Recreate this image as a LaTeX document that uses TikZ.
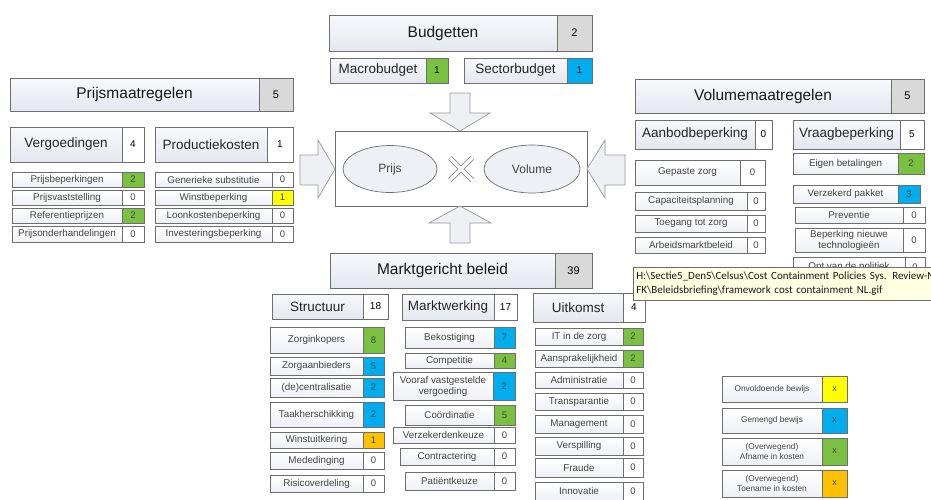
\documentclass[tikz,border=0pt]{standalone}
\usepackage{fontspec}
\setmainfont{Liberation Sans}
\newfontfamily\tipfont{Carlito}
\usetikzlibrary{shapes.geometric}
\definecolor{hdrtop}{HTML}{F8F9FC}
\definecolor{hdrbot}{HTML}{E4E7EE}
\definecolor{itemfill}{HTML}{EEF0F5}
\definecolor{numgray}{HTML}{D9D9D9}
\definecolor{edge}{HTML}{6E6E6E}
\definecolor{cgreen}{HTML}{7AC142}
\definecolor{cblue}{HTML}{00AEEF}
\definecolor{cyellow}{HTML}{FFFF00}
\definecolor{corange}{HTML}{FFC000}
\definecolor{tipfill}{HTML}{FFFFE1}
\definecolor{arrowfill}{HTML}{EEF0F4}
\definecolor{itemtext}{HTML}{444444}
\newcommand{\twocell}[9]{%
  \node[txtcell, anchor=north west, minimum width={(#4-#2)*1pt}, minimum height={(#6-#3)*1pt}] (#1) at (#2,#3) {#7};
  \node[numcell, fill=#9, anchor=north west, minimum width={(#5-#4)*1pt}, minimum height={(#6-#3)*1pt}] (#1-n) at (#4,#3) {#8};
}
\begin{document}
\begin{tikzpicture}[x=1pt,y=-1pt,
  txtcell/.style={draw=edge, line width=0.7pt, inner sep=1pt, outer sep=0pt, align=center, top color=hdrtop, bottom color=hdrbot},
  numcell/.style={draw=edge, line width=0.7pt, inner sep=1pt, outer sep=0pt, align=center},
  blockarrow/.style={draw=edge!70, fill=arrowfill, line width=0.7pt, line join=miter},
  hdr/.style={txtcell/.append style={font=\fontsize{15.5}{17}\selectfont, text=black!90}, numcell/.append style={font=\fontsize{11}{13}\selectfont}},
  sub/.style={txtcell/.append style={font=\fontsize{13.5}{15}\selectfont, text=black!85}, numcell/.append style={font=\fontsize{10}{12}\selectfont}},
  itm/.style={txtcell/.append style={font=\fontsize{9.8}{11}\selectfont, text=itemtext, top color=white, bottom color=itemfill}, numcell/.append style={font=\fontsize{9.5}{11}\selectfont, text=itemtext}},
  leg/.style={txtcell/.append style={font=\fontsize{8.3}{9.5}\selectfont, text=itemtext, top color=white, bottom color=itemfill}, numcell/.append style={font=\fontsize{9}{11}\selectfont, text=itemtext}}
]
\useasboundingbox (0,0) rectangle (931,499);
\fill[white] (0,0) rectangle (931,499);

% ---------- Headers ----------
\begin{scope}[hdr]
  \twocell{bud}{329}{15}{557}{592}{51}{Budgetten}{2}{numgray}
  \twocell{prijsm}{10}{78}{259}{293}{111}{Prijsmaatregelen}{5}{numgray}
  \twocell{volm}{635}{79}{891}{924}{113}{Volumemaatregelen}{5}{numgray}
  \twocell{markt}{330}{253}{555}{592}{288}{Marktgericht beleid}{39}{numgray}
\end{scope}

\begin{scope}[sub]
  \twocell{macro}{330}{58}{426}{448}{83}{Macrobudget}{1}{cgreen}
  \twocell{sector}{464}{58}{567}{592}{83}{Sectorbudget}{1}{cblue}
  \twocell{verg}{10}{127}{122}{144}{162}{Vergoedingen}{4}{white}
  \twocell{prod}{155}{127}{267}{293}{162}{Productiekosten}{1}{white}
  \twocell{aanbod}{635}{120}{755}{772}{149}{Aanbodbeperking}{0}{white}
  \twocell{vraag}{793}{120}{900}{924}{149}{Vraagbeperking}{5}{white}
  \twocell{struct}{272}{294}{363}{388}{319}{Structuur}{18}{white}
  \twocell{mwerk}{402}{294}{494}{517}{320}{Marktwerking}{17}{white}
  \twocell{uitk}{533}{293}{623}{645}{322}{Uitkomst}{4}{white}
\end{scope}

\begin{scope}[itm]
  % Vergoedingen
  \twocell{pb}{12}{172}{122}{144}{187}{Prijsbeperkingen}{2}{cgreen}
  \twocell{pv}{12}{190}{122}{144}{205}{Prijsvaststelling}{0}{white}
  \twocell{rp}{12}{208}{122}{144}{223}{Referentieprijzen}{2}{cgreen}
  \twocell{po}{12}{226}{122}{144}{242}{Prijsonderhandelingen}{0}{white}
  % Productiekosten
  \twocell{gs}{155}{172}{272}{293}{187}{Generieke substitutie}{0}{white}
  \twocell{wb}{155}{190}{272}{293}{205}{Winstbeperking}{1}{cyellow}
  \twocell{lk}{155}{208}{272}{293}{223}{Loonkostenbeperking}{0}{white}
  \twocell{ib}{155}{226}{272}{293}{242}{Investeringsbeperking}{0}{white}
  % Aanbodbeperking
  \twocell{gz}{635}{160}{740}{765}{185}{Gepaste zorg}{0}{white}
  \twocell{cp}{635}{192}{747}{765}{210}{Capaciteitsplanning}{0}{white}
  \twocell{tz}{635}{215}{747}{765}{232}{Toegang tot zorg}{0}{white}
  \twocell{am}{635}{237}{747}{765}{253}{Arbeidsmarktbeleid}{0}{white}
  % Vraagbeperking
  \twocell{eb}{793}{153}{898}{924}{174}{Eigen betalingen}{2}{cgreen}
  \twocell{vp}{793}{185}{898}{920}{203}{Verzekerd pakket}{3}{cblue}
  \twocell{pr}{795}{207}{903}{925}{223}{Preventie}{0}{white}
  \twocell{bt}{795}{228}{903}{925}{252}{Beperking nieuwe\\technologieën}{0}{white}
  \twocell{op}{793}{257}{905}{925}{277}{Ont van de politiek}{0}{white}
  % Structuur
  \twocell{zi}{270}{327}{363}{384}{353}{Zorginkopers}{8}{cgreen}
  \twocell{za}{270}{357}{363}{384}{375}{Zorgaanbieders}{5}{cblue}
  \twocell{dc}{270}{378}{363}{384}{397}{(de)centralisatie}{2}{cblue}
  \twocell{th}{270}{402}{363}{384}{427}{Taakherschikking}{2}{cblue}
  \twocell{wu}{270}{432}{363}{384}{448}{Winstuitkering}{1}{corange}
  \twocell{md}{270}{452}{363}{384}{469}{Mededinging}{0}{white}
  \twocell{rv}{270}{475}{363}{384}{492}{Risicoverdeling}{0}{white}
  % Marktwerking
  \twocell{bk}{405}{327}{494}{515}{348}{Bekostiging}{7}{cblue}
  \twocell{cm}{405}{353}{494}{515}{368}{Competitie}{4}{cgreen}
  \twocell{vv}{393}{372}{493}{515}{400}{Vooraf vastgestelde\\vergoeding}{2}{cblue}
  \twocell{co}{405}{405}{494}{515}{425}{Coördinatie}{5}{cgreen}
  \twocell{vk}{393}{427}{494}{515}{443}{Verzekerdenkeuze}{0}{white}
  \twocell{ct}{400}{448}{494}{515}{465}{Contractering}{0}{white}
  \twocell{pk}{405}{472}{494}{515}{490}{Patiëntkeuze}{0}{white}
  % Uitkomst
  \twocell{it}{535}{328}{623}{643}{345}{IT in de zorg}{2}{cgreen}
  \twocell{ak}{535}{350}{623}{643}{367}{Aansprakelijkheid}{2}{cgreen}
  \twocell{ad}{535}{372}{623}{643}{388}{Administratie}{0}{white}
  \twocell{tp}{535}{393}{623}{643}{410}{Transparantie}{0}{white}
  \twocell{mg}{535}{415}{623}{643}{433}{Management}{0}{white}
  \twocell{vs}{535}{437}{623}{643}{455}{Verspilling}{0}{white}
  \twocell{fr}{535}{458}{623}{643}{477}{Fraude}{0}{white}
  \twocell{in}{535}{482}{623}{643}{500}{Innovatie}{0}{white}
\end{scope}

% ---------- Legend ----------
\begin{scope}[leg]
  \twocell{l1}{722}{376}{822}{847}{402}{Onvoldoende bewijs}{x}{cyellow}
  \twocell{l2}{722}{408}{822}{847}{433}{Gemengd bewijs}{x}{cblue}
  \twocell{l3}{722}{438}{822}{847}{465}{(Overwegend)\\Afname in kosten}{x}{cgreen}
  \twocell{l4}{722}{470}{822}{847}{497}{(Overwegend)\\Toename in kosten}{x}{corange}
\end{scope}

% ---------- Centre ----------
\node[draw=edge, line width=0.7pt, fill=white, anchor=north west, minimum width=252pt, minimum height=75pt, inner sep=0pt] (core) at (335,131) {};
\node[ellipse, draw=edge, line width=0.7pt, fill=itemfill, minimum width=94pt, minimum height=47pt, font=\fontsize{12}{14}\selectfont, text=itemtext] (prijs) at (390,169) {Prijs};
\node[ellipse, draw=edge, line width=0.7pt, fill=itemfill, minimum width=96pt, minimum height=48pt, font=\fontsize{12}{14}\selectfont, text=itemtext] (volume) at (532,169) {Volume};
\coordinate (xc) at (461,169);
\draw[edge!80, line width=5pt] ([shift={(-11,-11)}]xc) -- ([shift={(11,11)}]xc) ([shift={(-11,11)}]xc) -- ([shift={(11,-11)}]xc);
\draw[white, line width=3.4pt] ([shift={(-11,-11)}]xc) -- ([shift={(11,11)}]xc) ([shift={(-11,11)}]xc) -- ([shift={(11,-11)}]xc);

% ---------- Block arrows ----------
\draw[blockarrow] (450,93) -- (470,93) -- (470,113) -- (490,113) -- (460,131) -- (430,113) -- (450,113) -- cycle;
\draw[blockarrow] (450,243) -- (470,243) -- (470,223) -- (491,223) -- (460,206) -- (429,223) -- (450,223) -- cycle;
\draw[blockarrow] (300,155) -- (318,155) -- (318,140) -- (335,169) -- (318,198) -- (318,185) -- (300,185) -- cycle;
\draw[blockarrow] (625,155) -- (605,155) -- (605,140) -- (587,169) -- (605,198) -- (605,185) -- (625,185) -- cycle;

% ---------- Tooltip ----------
\node[draw=edge, line width=0.7pt, fill=tipfill, anchor=north west, minimum width=320pt, minimum height=33pt, inner sep=3pt, text width=314pt, align=left, font=\tipfont\fontsize{11}{13.5}\selectfont, text=black!90] (tip) at (633,267)
  {H:\textbackslash Sectie5\_DenS\textbackslash Celsus\textbackslash Cost Containment Policies Sys. Review-N\\FK\textbackslash Beleidsbriefing\textbackslash framework cost containment NL.gif};
\end{tikzpicture}
\end{document}
